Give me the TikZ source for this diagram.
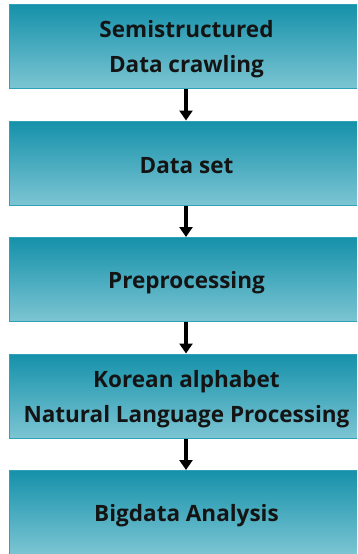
\documentclass[tikz,border=0pt]{standalone}
\usepackage{fontspec}
\setmainfont{Open Sans}
\usetikzlibrary{arrows.meta}
\definecolor{boxtop}{HTML}{1591AA}
\definecolor{boxbot}{HTML}{7CC5D3}
\definecolor{boxline}{HTML}{2FA2BA}
\tikzset{
  stage/.style={draw=boxline, line width=1pt, top color=boxtop, bottom color=boxbot,
    minimum width=354pt, minimum height=84pt, anchor=north west, inner sep=0pt},
  caption/.style={font=\bfseries\fontsize{22.5}{35}\selectfont, align=center,
    text=black!92, inner sep=0pt},
  flow/.style={-{Triangle[width=13pt,length=10pt]}, line width=3.2pt, black}
}
\begin{document}
\begin{tikzpicture}[x=1pt,y=-1pt]
  \useasboundingbox (0,0) rectangle (357,554);
  \begin{scope}
    \clip (0,0) rectangle (357,554);
    \node[stage] (s1) at (9,4) {};
    \node[stage] (s2) at (9,120.5) {};
    \node[stage] (s3) at (9,237) {};
    \node[stage] (s4) at (9,353.5) {};
    \node[stage] (s5) at (9,470) {};
  \end{scope}
  \node[caption] (t1) at ([yshift=-3pt]s1.center) {Semistructured\\Data crawling};
  \node[caption] (t2) at ([yshift=-3pt]s2.center) {Data set};
  \node[caption] (t3) at ([yshift=-3pt]s3.center) {Preprocessing};
  \node[caption] (t4) at ([yshift=-3pt]s4.center) {Korean alphabet\\Natural Language Processing};
  \node[caption] (t5) at ([yshift=-3pt]s5.center) {Bigdata Analysis};
  \foreach \a/\b in {s1/s2,s2/s3,s3/s4,s4/s5}
    \draw[flow] ([xshift=-0.5pt]\a.south) -- ([xshift=-0.5pt]\b.north);
\end{tikzpicture}
\end{document}
